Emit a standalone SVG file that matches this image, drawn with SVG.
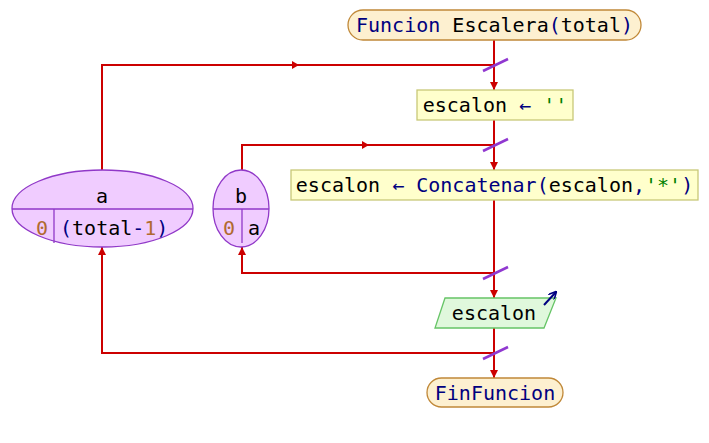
<svg xmlns="http://www.w3.org/2000/svg" width="709" height="443" viewBox="0 0 709 443">
<defs>
<style>
text{font-family:"DejaVu Sans Mono","Liberation Mono",monospace;font-size:20px;fill:#000}
.k{fill:#00007f}
.s{fill:#007f00}
.n{fill:#b06a30}
.term{fill:#fdf0d0;stroke:#c08838;stroke-width:1.3}
.proc{fill:#ffffcc;stroke:#c8c878;stroke-width:1.3}
.io{fill:#e0f8dc;stroke:#66c466;stroke-width:1.3}
.loop{fill:#f0ccff;stroke:#9038c8;stroke-width:1.3}
.div{stroke:#9038c8;stroke-width:1.3;fill:none}
.c{stroke:#cc0000;stroke-width:2;fill:none}
.ah{fill:#cc0000}
.sl{stroke:#9038d0;stroke-width:2.5}
</style>
<marker id="arr" viewBox="0 0 10 10" refX="10" refY="5" markerWidth="8" markerHeight="8" markerUnits="userSpaceOnUse" orient="auto">
<path d="M0,0 L10,5 L0,10 z" fill="#cc0000"/>
</marker>
<marker id="oarr" viewBox="0 0 10 10" refX="9" refY="5" markerWidth="8" markerHeight="8" markerUnits="userSpaceOnUse" orient="auto">
<path d="M0,0 L10,5 L0,10" fill="none" stroke="#000080" stroke-width="2"/>
</marker>
</defs>
<g id="connectors">
<path class="c" d="M494,40 V90" marker-end="url(#arr)"/>
<path class="c" d="M494,120 V170" marker-end="url(#arr)"/>
<path class="c" d="M494,200 V298" marker-end="url(#arr)"/>
<path class="c" d="M494,328 V378" marker-end="url(#arr)"/>
<path class="c" d="M102,170 V65 H494"/>
<polygon class="ah" points="292,61 299,65 292,69"/>
<path class="c" d="M494,353 H102 V247" marker-end="url(#arr)"/>
<path class="c" d="M242,170 V145 H494"/>
<polygon class="ah" points="362,141 369,145 362,149"/>
<path class="c" d="M494,273 H242 V247" marker-end="url(#arr)"/>
<line class="sl" x1="483" y1="71" x2="508" y2="59"/>
<line class="sl" x1="483" y1="151" x2="508" y2="139"/>
<line class="sl" x1="483" y1="279" x2="508" y2="267"/>
<line class="sl" x1="483" y1="359" x2="508" y2="347"/>
</g>
<g id="start">
<rect class="term" x="348" y="10" width="293" height="30" rx="15"/>
<text x="494.5" y="32" text-anchor="middle"><tspan class="k">Funcion</tspan> Escalera<tspan class="k">(</tspan>total<tspan class="k">)</tspan></text>
</g>
<g id="assign1">
<rect class="proc" x="417" y="90" width="156" height="30"/>
<text x="495" y="112" text-anchor="middle">escalon <tspan class="k">←</tspan> <tspan class="s">''</tspan></text>
</g>
<g id="assign2">
<rect class="proc" x="291" y="170" width="407" height="30"/>
<text x="494.5" y="192" text-anchor="middle">escalon <tspan class="k">←</tspan> <tspan class="k">Concatenar(</tspan>escalon<tspan class="k">,</tspan><tspan class="s">'*'</tspan><tspan class="k">)</tspan></text>
</g>
<g id="loopA">
<ellipse class="loop" cx="102.5" cy="208.5" rx="90.5" ry="38.5"/>
<line class="div" x1="12" y1="209" x2="193" y2="209"/>
<line class="div" x1="54" y1="209" x2="54" y2="243"/>
<text x="102" y="203" text-anchor="middle">a</text>
<text x="42" y="235" text-anchor="middle" class="n">0</text>
<text x="60" y="235"><tspan class="k">(</tspan>total<tspan class="k">-</tspan><tspan class="n">1</tspan><tspan class="k">)</tspan></text>
</g>
<g id="loopB">
<ellipse class="loop" cx="241" cy="208.5" rx="28" ry="38.5"/>
<line class="div" x1="213" y1="209" x2="269" y2="209"/>
<line class="div" x1="242" y1="209" x2="242" y2="243"/>
<text x="241" y="203" text-anchor="middle">b</text>
<text x="229" y="235" text-anchor="middle" class="n">0</text>
<text x="254" y="235" text-anchor="middle">a</text>
</g>
<g id="output">
<polygon class="io" points="445,298 556,298 544,328 435,328"/>
<text x="494" y="320" text-anchor="middle">escalon</text>
<line x1="544" y1="305" x2="556" y2="292" stroke="#000080" stroke-width="2" marker-end="url(#oarr)"/>
</g>
<g id="end">
<rect class="term" x="427" y="378" width="136" height="29" rx="14.5"/>
<text x="495" y="400" text-anchor="middle" class="k">FinFuncion</text>
</g>
</svg>
